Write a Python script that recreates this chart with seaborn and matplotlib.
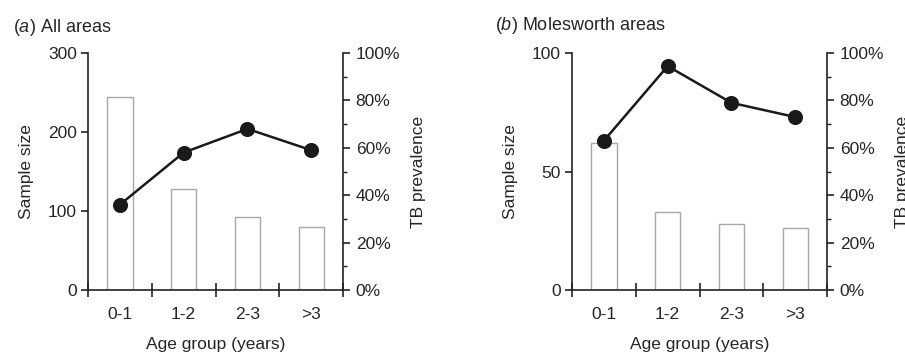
import numpy as np
import pandas as pd
import matplotlib
matplotlib.use("Agg")
import matplotlib.pyplot as plt
import seaborn as sns
from matplotlib.ticker import FixedLocator, PercentFormatter

sns.set_theme(style="white")
plt.rcParams['font.family'] = ['Liberation Sans', 'DejaVu Sans']
plt.rcParams['mathtext.fontset'] = 'custom'
plt.rcParams['mathtext.it'] = 'Liberation Sans:italic'
plt.rcParams['mathtext.rm'] = 'Liberation Sans'

age_groups = ['0-1', '1-2', '2-3', '>3']

# panel (a) all areas
sample_all = [244, 128, 93, 80]
prev_all = [36, 58, 68, 59]

# panel (b) Molesworth areas
sample_mol = [62, 33, 28, 26]
prev_mol = [63, 94.5, 79, 73]

panels = [
    ('($\\mathit{a}$) All areas', sample_all, prev_all, 300, [0, 100, 200, 300]),
    ('($\\mathit{b}$) Molesworth areas', sample_mol, prev_mol, 100, [0, 50, 100]),
]

fig = plt.figure(figsize=(9.05, 3.54), dpi=100)
lefts = [0.0972, 0.632]
width = 0.282
bottom = 0.181
height = 0.669
fs = 12.5

for i, (title, samples, prev, ymax, yticks) in enumerate(panels):
    ax = fig.add_axes([lefts[i], bottom, width, height])
    df = pd.DataFrame({'age': age_groups, 'n': samples, 'p': prev})
    sns.barplot(data=df, x='age', y='n', ax=ax, width=0.4, color='white',
                edgecolor='#a8a8a8', linewidth=1.0, saturation=1)
    ax.set_ylim(0, ymax)
    ax.set_yticks(yticks)
    ax.set_xlim(-0.5, 3.5)
    for s in ['top', 'right']:
        ax.spines[s].set_visible(False)
    for s in ['left', 'bottom']:
        ax.spines[s].set_color('#222222')
        ax.spines[s].set_linewidth(1.2)
    ax.tick_params(axis='y', direction='out', length=5, width=1.2, color='#222222',
                   labelsize=fs, pad=3, left=True)
    # category boundaries as crossing ticks, labels on centres
    ax.xaxis.set_major_locator(FixedLocator(np.arange(-0.5, 4, 1)))
    ax.set_xticklabels([])
    ax.xaxis.set_minor_locator(FixedLocator(np.arange(0, 4)))
    ax.set_xticklabels(age_groups, minor=True)
    ax.tick_params(axis='x', which='major', direction='inout', length=10, width=1.2,
                   color='#222222', bottom=True)
    ax.tick_params(axis='x', which='minor', length=0, labelsize=fs, pad=12, bottom=True)
    ax.set_xlabel('Age group (years)', fontsize=fs, labelpad=11)
    ax.set_ylabel('Sample size', fontsize=fs, labelpad=10)

    ax2 = ax.twinx()
    sns.pointplot(data=df, x='age', y='p', ax=ax2, color='#1a1a1a',
                  markers='o', markersize=9.5, linewidth=1.8)
    ax2.set_xlim(-0.5, 3.5)
    ax2.set_ylim(0, 100)
    ax2.set_yticks([0, 20, 40, 60, 80, 100])
    ax2.yaxis.set_minor_locator(FixedLocator([10, 30, 50, 70, 90]))
    ax2.yaxis.set_major_formatter(PercentFormatter(decimals=0))
    for s in ['top', 'left', 'bottom']:
        ax2.spines[s].set_visible(False)
    ax2.spines['right'].set_color('#222222')
    ax2.spines['right'].set_linewidth(1.2)
    ax2.tick_params(axis='y', which='major', direction='out', length=5, width=1.2,
                    color='#222222', labelsize=fs, pad=4, right=True)
    ax2.tick_params(axis='y', which='minor', direction='out', length=3, width=1.0,
                    color='#222222', right=True)
    ax2.set_ylabel('TB prevalence', fontsize=fs, labelpad=8)
    ax2.set_xlabel('')

fig.text(0.014, 0.91, panels[0][0], fontsize=fs + 0.5)
fig.text(0.547, 0.915, panels[1][0], fontsize=fs + 0.5)

fig.savefig('out.png', dpi=100)
